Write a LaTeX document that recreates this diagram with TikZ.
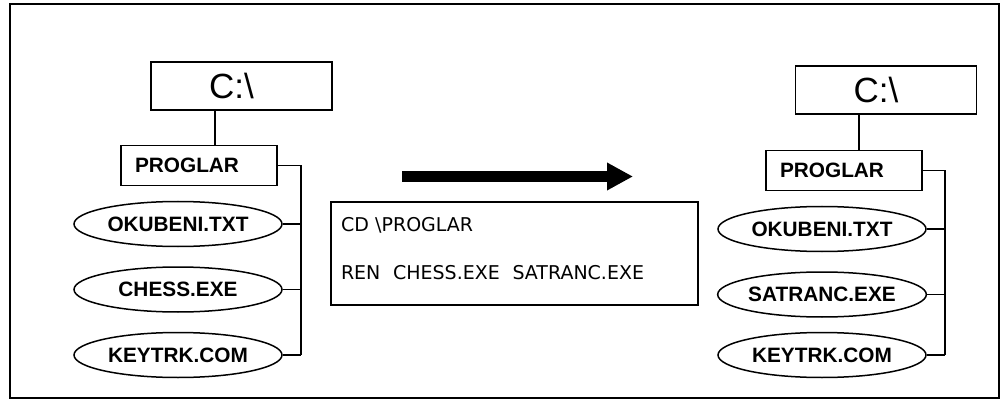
\documentclass[tikz,border=0pt]{standalone}
\usepackage{fontspec}
\setmainfont{Liberation Sans}
\newfontfamily\cmdfont{DejaVu Sans}
\usetikzlibrary{positioning,shapes.geometric,arrows.meta}

\begin{document}
\begin{tikzpicture}[x=0.5pt, y=-0.5pt, line width=0.75pt,
        node distance=9.5pt and 9.5pt,
        rootbox/.style={draw, minimum height=24pt, text width=32.5pt, inner xsep=29pt, inner ysep=0pt, align=left, font=\fontsize{17.5}{20}\selectfont},
        dirbox/.style={draw, minimum height=20pt, text width=64pt, inner xsep=7pt, inner ysep=0pt, align=left, font=\bfseries\fontsize{10.4}{12}\selectfont},
        filenode/.style={ellipse, draw, minimum width=104pt, minimum height=22.5pt, inner sep=0pt, font=\bfseries\fontsize{10.4}{12}\selectfont},
        cmdbox/.style={draw, minimum width=183.5pt, minimum height=51.5pt, text width=173.5pt, inner xsep=5pt, align=left, font=\cmdfont\fontsize{9.5}{11}\selectfont}]
        \useasboundingbox (0,0) rectangle (1002,401);
        \draw[line width=1pt] (9.5,4) rectangle (998.5,397.5);

        % Before
        \node[rootbox] (rootA) at (241.5,86) {C:\textbackslash};
        \node[dirbox] (dirA) [below=17pt of rootA, xshift=-21.25pt] {PROGLAR};
        \node[filenode] (okuA) [below=7.25pt of dirA, xshift=-10.5pt] {OKUBENI.TXT};
        \node[filenode] (chessA) [below=of okuA] {CHESS.EXE};
        \node[filenode] (keyA) [below=of chessA] {KEYTRK.COM};
        \coordinate (busA) at ([xshift=11.5pt]dirA.east);

        % Command
        \node[cmdbox] (cmd) at (514.5,253.5) {CD \textbackslash PROGLAR\\[13pt]REN\ \ CHESS.EXE\ \ SATRANC.EXE\\[-5.5pt]\mbox{}};
        \coordinate (arrowfrom) at (402,176.5);
        \coordinate (arrowto) at (633,176.5);

        % After
        \node[rootbox] (rootB) at (886,90) {C:\textbackslash};
        \node[dirbox] (dirB) [below=17.5pt of rootB, xshift=-21pt] {PROGLAR};
        \node[filenode] (okuB) [below=7.25pt of dirB, xshift=-11pt] {OKUBENI.TXT};
        \node[filenode] (satB) [below=of okuB] {SATRANC.EXE};
        \node[filenode] (keyB) [below=7pt of satB] {KEYTRK.COM};
        \coordinate (busB) at ([xshift=11pt]dirB.east);

        % Edges
        \draw ([xshift=8pt]dirA.north) -- ([xshift=8pt]dirA.north |- rootA.south);
        \draw (dirA.east) -- (busA) -- (busA |- keyA.east);
        \draw (okuA.east) -- (okuA.east -| busA);
        \draw (chessA.east) -- (chessA.east -| busA);
        \draw (keyA.east) -- (keyA.east -| busA);
        \draw ([xshift=7.5pt]dirB.north) -- ([xshift=7.5pt]dirB.north |- rootB.south);
        \draw (dirB.east) -- (busB) -- (busB |- keyB.east);
        \draw (okuB.east) -- (okuB.east -| busB);
        \draw (satB.east) -- (satB.east -| busB);
        \draw (keyB.east) -- (keyB.east -| busB);
        \draw[line width=5.5pt, -{Triangle[length=13pt, width=13pt]}] (arrowfrom) -- (arrowto);
    \end{tikzpicture}
\end{document}
